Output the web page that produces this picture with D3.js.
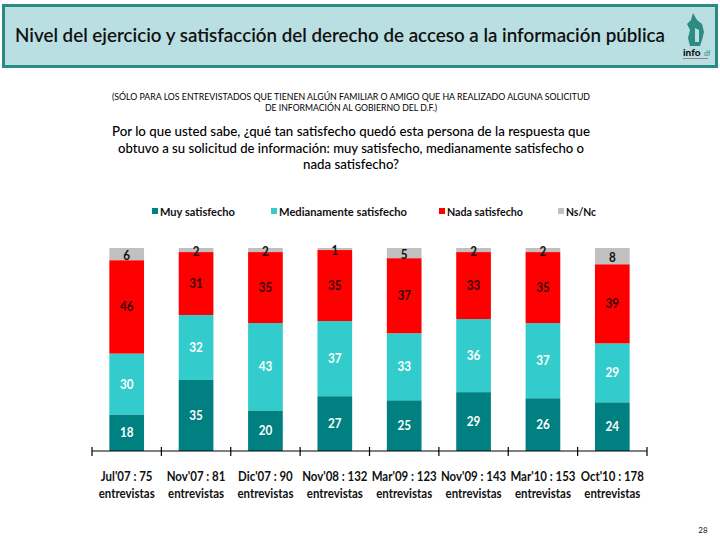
<!DOCTYPE html>
<html><head><meta charset="utf-8">
<script src="https://cdn.jsdelivr.net/npm/d3@7"></script>
<style>body{margin:0;background:#fff}svg{display:block}</style>
</head><body>
<svg id="c" width="720" height="540"></svg>
<script>
const categories = ["Jul'07 : 75|entrevistas","Nov'07 : 81|entrevistas","Dic'07 : 90|entrevistas","Nov'08 : 132|entrevistas","Mar'09 : 123|entrevistas","Nov'09 : 143|entrevistas","Mar'10 : 153|entrevistas","Oct'10 : 178|entrevistas"];
const seriesNames = ["Muy satisfecho","Medianamente satisfecho","Nada satisfecho","Ns/Nc"];
const muy = [18,35,20,27,25,29,26,24];
const mediana = [30,32,43,37,33,36,37,29];
const nada = [46,31,35,35,37,33,35,39];
const nsnc = [6,2,2,1,5,2,2,8];
const colors = ["#008080","#33CCCC","#FF0000","#C0C0C0"];
const labelColors = ["#ffffff","#ffffff","#3a0000","#111111"];

const svg = d3.select("#c");
const F = "Lato, 'Open Sans', sans-serif";

function squeeze(sel, f){ sel.each(function(){ const L=this.getComputedTextLength(); d3.select(this).attr("textLength",L*f).attr("lengthAdjust","spacingAndGlyphs"); }); }

// header
svg.append("rect").attr("x",3.5).attr("y",5.5).attr("width",713).attr("height",61)
  .attr("fill","#B9DFE2").attr("stroke","#2B8A82").attr("stroke-width",3);
svg.append("text").attr("x",15).attr("y",42).attr("font-family",F).attr("font-size",20)
  .attr("font-weight",600).attr("fill","#111").attr("textLength",650).attr("lengthAdjust","spacingAndGlyphs")
  .text("Nivel del ejercicio y satisfacción del derecho de acceso a la información pública");
// logo
const lg = svg.append("g");
lg.append("path").attr("d","M693,13 L697,20 L702,24 L704,32 L702,40 L700,46 L690,46 L688,38 L690,30 L687,24 L691,20 Z").attr("fill","#2E8A82");
lg.append("path").attr("d","M695,28 L699,30 L699,42 L695,42 Z").attr("fill","#B9DFE2");
lg.append("text").attr("x",683).attr("y",56).attr("font-family",F).attr("font-size",10).attr("font-weight",900).attr("fill","#111").text("info");
lg.append("text").attr("x",704).attr("y",56).attr("font-family",F).attr("font-size",7).attr("fill","#2E8A82").text("df");
lg.append("rect").attr("x",683).attr("y",58).attr("width",25).attr("height",1).attr("fill","#888");

// subtitle
svg.append("text").attr("x",351).attr("y",100).attr("text-anchor","middle").attr("font-family",F)
  .attr("font-size",8.5).attr("fill","#000").attr("textLength",478).attr("lengthAdjust","spacingAndGlyphs")
  .text("(SÓLO PARA LOS ENTREVISTADOS QUE TIENEN ALGÚN FAMILIAR O AMIGO QUE HA REALIZADO ALGUNA SOLICITUD");
svg.append("text").attr("x",351).attr("y",111).attr("text-anchor","middle").attr("font-family",F)
  .attr("font-size",8.5).attr("fill","#000").attr("textLength",172).attr("lengthAdjust","spacingAndGlyphs")
  .text("DE INFORMACIÓN AL GOBIERNO DEL D.F.)");
const q = ["Por lo que usted sabe, ¿qué tan satisfecho quedó esta persona de la respuesta que",
           "obtuvo a su solicitud de información: muy satisfecho, medianamente satisfecho o",
           "nada satisfecho?"];
const qw = [478, 466, 96];
q.forEach((t,i)=>svg.append("text").attr("x",351).attr("y",136+i*16.5).attr("text-anchor","middle")
  .attr("font-family",F).attr("font-size",14).attr("font-weight",500).attr("fill","#000").attr("textLength",qw[i]).attr("lengthAdjust","spacingAndGlyphs").text(t));

// legend
const legX = [152,271,439,558];
const legW = [75,128,76,30];
seriesNames.forEach((n,i)=>{
  svg.append("rect").attr("x",legX[i]).attr("y",208).attr("width",6).attr("height",6).attr("fill",colors[i]);
  svg.append("text").attr("x",legX[i]+8).attr("y",215.5).attr("font-family",F).attr("font-size",11)
    .attr("font-weight",700).attr("fill","#111").attr("textLength",legW[i]).attr("lengthAdjust","spacingAndGlyphs").text(n);
});

// chart
const x = d3.scaleBand().domain(categories).range([92,647]).paddingInner(0.5).paddingOuter(0.25);
const y = d3.scaleLinear().domain([0,100]).range([451,248]);
const data = categories.map((c,i)=>({cat:c, muy:muy[i], mediana:mediana[i], nada:nada[i], nsnc:nsnc[i]}));
const keys = ["muy","mediana","nada","nsnc"];
const stack = d3.stack().keys(keys)(data);
const g = svg.append("g");
stack.forEach((s,si)=>{
  g.selectAll(null).data(s).join("rect")
    .attr("x",d=>x(d.data.cat)).attr("width",x.bandwidth())
    .attr("y",d=>y(d[1])).attr("height",d=>y(d[0])-y(d[1])).attr("fill",colors[si]);
});
stack.forEach((s,si)=>{
  const t = g.selectAll(null).data(s).join("text")
    .attr("x",d=>x(d.data.cat)+x.bandwidth()/2)
    .attr("y",d=>(y(d[0])+y(d[1]))/2 + 4.5 + (si===3 ? 1 : 0))
    .attr("text-anchor","middle").attr("font-family",F).attr("font-size",13).attr("font-weight",700)
    .attr("fill",labelColors[si]).text(d=>d[1]-d[0]);
  squeeze(t, 0.9);
});

// axis
const ax = svg.append("g");
ax.append("line").attr("x1",92).attr("x2",647).attr("y1",451).attr("y2",451).attr("stroke","#000").attr("stroke-width",1.2);
const tickX = categories.map(c=>x(c)-x.step()*x.paddingInner()/2).concat([647]);
ax.selectAll(null).data(tickX).join("line").attr("x1",d=>d).attr("x2",d=>d).attr("y1",447).attr("y2",456).attr("stroke","#000").attr("stroke-width",1.2);
categories.forEach(c=>{
  const parts = c.split("|");
  parts.forEach((p,j)=>{
    const t = svg.append("text").attr("x",x(c)+x.bandwidth()/2).attr("y",481+j*16.5)
      .attr("text-anchor","middle").attr("font-family",F).attr("font-size",13.5).attr("font-weight",700)
      .attr("fill","#111").text(p);
    squeeze(t, 0.85);
  });
});

svg.append("text").attr("x",703).attr("y",533).attr("text-anchor","middle").attr("font-family",F).attr("font-size",8).attr("fill","#111").text("28");
</script>
</body></html>
